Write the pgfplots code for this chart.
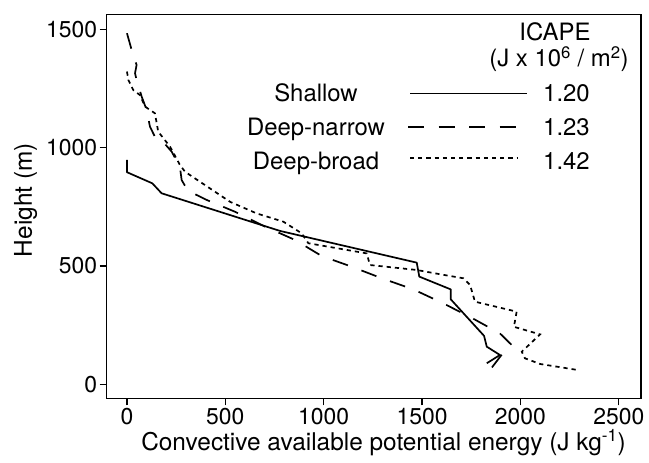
\documentclass[border=0pt]{standalone}
\usepackage{fontspec}
\setmainfont{TeX Gyre Heros}
\usepackage{pgfplots}
\pgfplotsset{compat=1.18}
\begin{document}
\begin{tikzpicture}
\path[use as bounding box] (0,0) rectangle (649bp,463bp);
\begin{axis}[
  scale only axis,
  width=534.3bp, height=384bp,
  at={(106.7bp,64.7bp)}, anchor=south west,
  xmin=-103, xmax=2613, ymin=-59, ymax=1563,
  xtick={0,500,...,2500}, ytick={0,500,1000,1500},
  xtick pos=bottom, ytick pos=left,
  tick align=outside, major tick length=7bp,
  every tick/.style={black, line width=1.2bp},
  axis line style={line width=1.4bp},
  /pgf/number format/assume math mode=true,
  /pgf/number format/set thousands separator={},
  ticklabel style={font=\fontsize{23}{27}\selectfont},
  xticklabel style={inner sep=2.5bp},
  yticklabel style={inner sep=2.5bp},
  xlabel={Convective available potential energy (J kg\textsuperscript{-1})},
  ylabel={Height (m)},
  label style={font=\fontsize{24.5}{29}\selectfont},
  xlabel style={at={(axis description cs:0.518,-0.136)}, anchor=base},
  ylabel style={at={(axis description cs:-0.14,0.516)}, anchor=base, rotate=0},
  clip=false,
]
% Shallow
\addplot[black, line width=1.7bp, line join=round] coordinates {
(0,948)(0,896)(129,849)(176,807)(778,648)(1473,514)(1486,455)(1646,401)(1646,359)(1815,205)(1829,159)(1896,124)(1829,89)
};
% Deep-narrow
\addplot[black, line width=1.7bp, dash pattern=on 16bp off 14.5bp] coordinates {
(0,1483)(24,1412)(49,1349)(41,1314)(49,1286)(75,1215)(100,1159)(117,1088)(142,1046)(168,1039)(227,983)(269,919)(278,863)(312,814)(329,810)(405,779)(549,729)(702,666)(854,610)(990,542)(1142,497)(1295,448)(1456,401)(1608,342)(1752,281)(1896,215)(1956,166)(1902,122)(1842,57)
};
% Deep-broad
\addplot[black, line width=1.7bp, dash pattern=on 4.2bp off 4bp] coordinates {
(0,1321)(7,1286)(32,1243)(66,1222)(92,1173)(142,1145)(159,1067)(219,1004)(269,927)(295,898)(524,771)(659,722)(795,687)(888,638)(922,596)(1219,553)(1235,504)(1473,483)(1591,465)(1710,448)(1744,420)(1769,349)(1981,307)(1967,243)(2100,211)(2007,138)(2023,110)(2100,86)(2295,60)
};
% legend samples
\addplot[black, line width=1.7bp, forget plot] coordinates {(1439,1229)(2034,1229)};
\addplot[black, line width=1.7bp, dash pattern=on 16bp off 14.5bp, forget plot] coordinates {(1429,1087)(1988,1087)};
\addplot[black, line width=1.7bp, dash pattern=on 4.2bp off 4bp, forget plot] coordinates {(1439,956)(1983,956)};
\end{axis}
\begin{scope}[every node/.style={font=\fontsize{24}{28}\selectfont, inner sep=0pt}]
\node[anchor=base] at (316bp,361bp) {Shallow};
\node[anchor=base] at (316bp,327.5bp) {Deep-narrow};
\node[anchor=base] at (316bp,293bp) {Deep-broad};
\node[anchor=base west] at (543bp,361bp) {1.20};
\node[anchor=base west] at (543bp,327.5bp) {1.23};
\node[anchor=base west] at (543bp,293bp) {1.42};
\node[anchor=base] at (555bp,422.5bp) {ICAPE};
\node[anchor=base] at (559bp,396bp) {(J x 10\textsuperscript{6} / m\textsuperscript{2})};
\end{scope}
\end{tikzpicture}
\end{document}
